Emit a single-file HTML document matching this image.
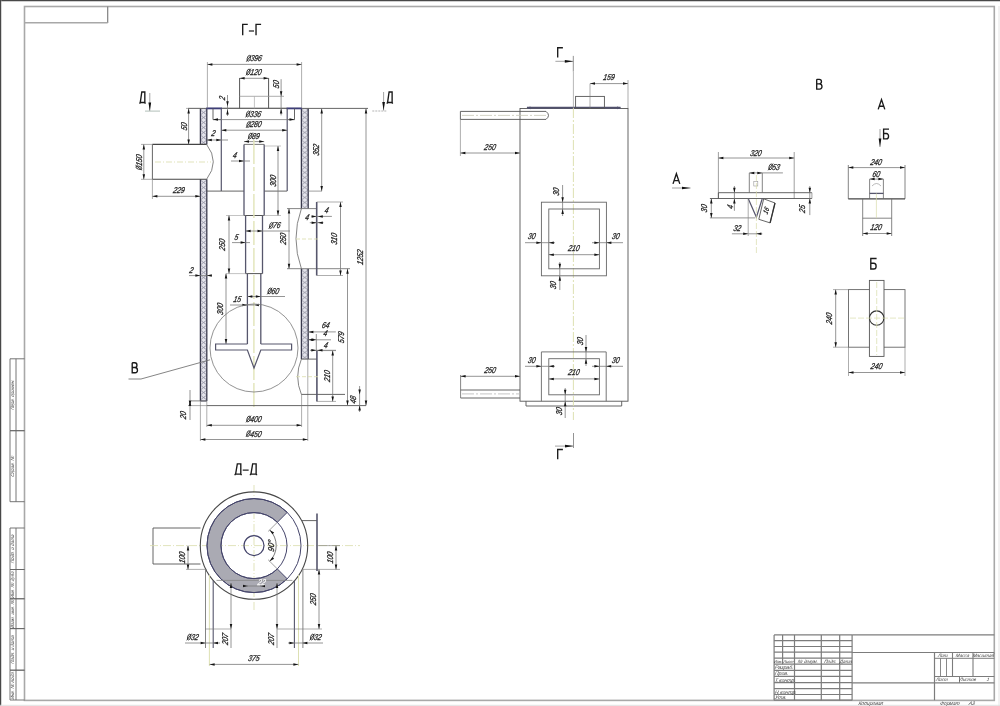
<!DOCTYPE html>
<html><head><meta charset="utf-8"><style>
html,body{margin:0;padding:0;background:#fff;}
svg{display:block;font-family:"Liberation Sans",sans-serif;will-change:transform;}
</style></head><body>
<svg width="1000" height="706" viewBox="0 0 1000 706">
<defs>
<pattern id="hat" width="6.4" height="5" patternUnits="userSpaceOnUse" x="200.4" y="0">
<rect width="6.4" height="5" fill="#e4e4ec"/>
<path d="M0,0 L3.2,2.5 L6.4,0 M0,5 L3.2,2.5 L6.4,5" stroke="#8c8c9c" stroke-width="0.8" fill="none"/>
</pattern>
<pattern id="hatR" width="6.8" height="5" patternUnits="userSpaceOnUse" x="301.4" y="0">
<rect width="6.8" height="5" fill="#e4e4ec"/>
<path d="M0,0 L3.4,2.5 L6.8,0 M0,5 L3.4,2.5 L6.8,5" stroke="#8c8c9c" stroke-width="0.8" fill="none"/>
</pattern>
</defs>
<rect width="1000" height="706" fill="#fff"/>
<g opacity="0.999">
<rect x="0" y="0" width="1000" height="1" fill="#484848"/>
<rect x="0" y="1" width="1000" height="0.6" fill="#b0b0b0"/>
<rect x="0" y="0" width="1" height="706" fill="#484848"/>
<rect x="1" y="0" width="0.4" height="706" fill="#999"/>
<rect x="24.5" y="6.5" width="969.8" height="693.9" stroke="#a8a8a8" stroke-width="1.6" fill="none"/>
<line x1="0" y1="705.3" x2="1000" y2="705.3" stroke="#e0e0e0" stroke-width="1"/>
<line x1="999" y1="6" x2="999" y2="706" stroke="#ddd" stroke-width="0.8"/>
<line x1="107.7" y1="6.5" x2="107.7" y2="23" stroke="#808080" stroke-width="1.2"/>
<line x1="24.5" y1="22.8" x2="107.7" y2="22.8" stroke="#a8a8a8" stroke-width="1.6"/>
<line x1="10" y1="358.8" x2="24.5" y2="358.8" stroke="#666" stroke-width="0.9"/>
<line x1="10" y1="430.7" x2="24.5" y2="430.7" stroke="#666" stroke-width="0.9"/>
<line x1="10" y1="358.8" x2="10" y2="430.7" stroke="#666" stroke-width="0.9"/>
<line x1="16" y1="358.8" x2="16" y2="430.7" stroke="#666" stroke-width="0.9"/>
<text transform="translate(13.0,394.75) rotate(-90) skewX(-13)" font-size="4.6" font-style="italic" font-weight="normal" text-anchor="middle" dominant-baseline="central" fill="#3a3a3a">Перв. примен.</text>
<line x1="10" y1="430.7" x2="24.5" y2="430.7" stroke="#666" stroke-width="0.9"/>
<line x1="10" y1="501.7" x2="24.5" y2="501.7" stroke="#666" stroke-width="0.9"/>
<line x1="10" y1="430.7" x2="10" y2="501.7" stroke="#666" stroke-width="0.9"/>
<line x1="16" y1="430.7" x2="16" y2="501.7" stroke="#666" stroke-width="0.9"/>
<text transform="translate(13.0,466.2) rotate(-90) skewX(-13)" font-size="4.6" font-style="italic" font-weight="normal" text-anchor="middle" dominant-baseline="central" fill="#3a3a3a">Справ. №</text>
<line x1="10" y1="528" x2="24.5" y2="528" stroke="#666" stroke-width="0.9"/>
<line x1="10" y1="569.5" x2="24.5" y2="569.5" stroke="#666" stroke-width="0.9"/>
<line x1="10" y1="528" x2="10" y2="569.5" stroke="#666" stroke-width="0.9"/>
<line x1="16" y1="528" x2="16" y2="569.5" stroke="#666" stroke-width="0.9"/>
<text transform="translate(13.0,548.75) rotate(-90) skewX(-13)" font-size="4.6" font-style="italic" font-weight="normal" text-anchor="middle" dominant-baseline="central" fill="#3a3a3a">Подп. и дата</text>
<line x1="10" y1="569.5" x2="24.5" y2="569.5" stroke="#666" stroke-width="0.9"/>
<line x1="10" y1="598.75" x2="24.5" y2="598.75" stroke="#666" stroke-width="0.9"/>
<line x1="10" y1="569.5" x2="10" y2="598.75" stroke="#666" stroke-width="0.9"/>
<line x1="16" y1="569.5" x2="16" y2="598.75" stroke="#666" stroke-width="0.9"/>
<text transform="translate(13.0,584.125) rotate(-90) skewX(-13)" font-size="4.6" font-style="italic" font-weight="normal" text-anchor="middle" dominant-baseline="central" fill="#3a3a3a">Инв. № дубл.</text>
<line x1="10" y1="598.75" x2="24.5" y2="598.75" stroke="#666" stroke-width="0.9"/>
<line x1="10" y1="628.6" x2="24.5" y2="628.6" stroke="#666" stroke-width="0.9"/>
<line x1="10" y1="598.75" x2="10" y2="628.6" stroke="#666" stroke-width="0.9"/>
<line x1="16" y1="598.75" x2="16" y2="628.6" stroke="#666" stroke-width="0.9"/>
<text transform="translate(13.0,613.675) rotate(-90) skewX(-13)" font-size="4.6" font-style="italic" font-weight="normal" text-anchor="middle" dominant-baseline="central" fill="#3a3a3a">Взам. инв. №</text>
<line x1="10" y1="628.6" x2="24.5" y2="628.6" stroke="#666" stroke-width="0.9"/>
<line x1="10" y1="670.2" x2="24.5" y2="670.2" stroke="#666" stroke-width="0.9"/>
<line x1="10" y1="628.6" x2="10" y2="670.2" stroke="#666" stroke-width="0.9"/>
<line x1="16" y1="628.6" x2="16" y2="670.2" stroke="#666" stroke-width="0.9"/>
<text transform="translate(13.0,649.4000000000001) rotate(-90) skewX(-13)" font-size="4.6" font-style="italic" font-weight="normal" text-anchor="middle" dominant-baseline="central" fill="#3a3a3a">Подп. и дата</text>
<line x1="10" y1="670.2" x2="24.5" y2="670.2" stroke="#666" stroke-width="0.9"/>
<line x1="10" y1="700" x2="24.5" y2="700" stroke="#666" stroke-width="0.9"/>
<line x1="10" y1="670.2" x2="10" y2="700" stroke="#666" stroke-width="0.9"/>
<line x1="16" y1="670.2" x2="16" y2="700" stroke="#666" stroke-width="0.9"/>
<text transform="translate(13.0,685.1) rotate(-90) skewX(-13)" font-size="4.6" font-style="italic" font-weight="normal" text-anchor="middle" dominant-baseline="central" fill="#3a3a3a">Инв. № подл.</text>
<line x1="774.1" y1="634.9" x2="852.1" y2="634.9" stroke="#7c7c7c" stroke-width="1.2"/>
<line x1="774.1" y1="640.7" x2="852.1" y2="640.7" stroke="#7c7c7c" stroke-width="1.2"/>
<line x1="774.1" y1="646.5" x2="852.1" y2="646.5" stroke="#7c7c7c" stroke-width="1.2"/>
<line x1="774.1" y1="652.2" x2="852.1" y2="652.2" stroke="#7c7c7c" stroke-width="1.2"/>
<line x1="774.1" y1="658.1" x2="852.1" y2="658.1" stroke="#7c7c7c" stroke-width="1.2"/>
<line x1="774.1" y1="664.2" x2="852.1" y2="664.2" stroke="#7c7c7c" stroke-width="1.2"/>
<line x1="774.1" y1="670.3" x2="852.1" y2="670.3" stroke="#7c7c7c" stroke-width="1.2"/>
<line x1="774.1" y1="676.4" x2="852.1" y2="676.4" stroke="#7c7c7c" stroke-width="1.2"/>
<line x1="774.1" y1="682.6" x2="852.1" y2="682.6" stroke="#7c7c7c" stroke-width="1.2"/>
<line x1="774.1" y1="688.7" x2="852.1" y2="688.7" stroke="#7c7c7c" stroke-width="1.2"/>
<line x1="774.1" y1="694.5" x2="852.1" y2="694.5" stroke="#7c7c7c" stroke-width="1.2"/>
<line x1="774.1" y1="700.2" x2="852.1" y2="700.2" stroke="#7c7c7c" stroke-width="1.2"/>
<line x1="774.1" y1="634.9" x2="774.1" y2="700.2" stroke="#7c7c7c" stroke-width="1.2"/>
<line x1="794.5" y1="634.9" x2="794.5" y2="700.2" stroke="#7c7c7c" stroke-width="1.2"/>
<line x1="821.3" y1="634.9" x2="821.3" y2="700.2" stroke="#7c7c7c" stroke-width="1.2"/>
<line x1="839.7" y1="634.9" x2="839.7" y2="700.2" stroke="#7c7c7c" stroke-width="1.2"/>
<line x1="852.1" y1="634.9" x2="852.1" y2="700.2" stroke="#7c7c7c" stroke-width="1.2"/>
<line x1="782.6" y1="634.9" x2="782.6" y2="664.2" stroke="#7c7c7c" stroke-width="1.2"/>
<line x1="852.1" y1="634.9" x2="994.3" y2="634.9" stroke="#7c7c7c" stroke-width="1.2"/>
<line x1="852.1" y1="652.5" x2="994.3" y2="652.5" stroke="#7c7c7c" stroke-width="1.2"/>
<line x1="852.1" y1="682.8" x2="994.3" y2="682.8" stroke="#7c7c7c" stroke-width="1.2"/>
<line x1="934.5" y1="652.5" x2="934.5" y2="700.2" stroke="#7c7c7c" stroke-width="1.2"/>
<line x1="934.5" y1="658.3" x2="994.3" y2="658.3" stroke="#7c7c7c" stroke-width="1.0"/>
<line x1="934.5" y1="676.5" x2="994.3" y2="676.5" stroke="#7c7c7c" stroke-width="1.2"/>
<line x1="952.5" y1="652.5" x2="952.5" y2="676.5" stroke="#7c7c7c" stroke-width="1.1"/>
<line x1="940.5" y1="658.3" x2="940.5" y2="676.5" stroke="#7c7c7c" stroke-width="0.9"/>
<line x1="946.5" y1="658.3" x2="946.5" y2="676.5" stroke="#7c7c7c" stroke-width="0.9"/>
<line x1="959.5" y1="676.5" x2="959.5" y2="682.8" stroke="#7c7c7c" stroke-width="1.0"/>
<line x1="973" y1="652.5" x2="973" y2="676.5" stroke="#7c7c7c" stroke-width="1.1"/>
<text transform="translate(943.5,655.6) skewX(-13)" font-size="4.6" font-style="italic" font-weight="normal" text-anchor="middle" dominant-baseline="central" fill="#3a3a3a">Лит.</text>
<text transform="translate(962.7,655.6) skewX(-13)" font-size="4.6" font-style="italic" font-weight="normal" text-anchor="middle" dominant-baseline="central" fill="#3a3a3a">Масса</text>
<text transform="translate(983.5,655.6) skewX(-13)" font-size="4.6" font-style="italic" font-weight="normal" text-anchor="middle" dominant-baseline="central" fill="#3a3a3a">Масштаб</text>
<text transform="translate(942,679.8) skewX(-13)" font-size="4.6" font-style="italic" font-weight="normal" text-anchor="middle" dominant-baseline="central" fill="#3a3a3a">Лист</text>
<text transform="translate(968,679.8) skewX(-13)" font-size="4.6" font-style="italic" font-weight="normal" text-anchor="middle" dominant-baseline="central" fill="#3a3a3a">Листов</text>
<text transform="translate(988,679.8) skewX(-13)" font-size="4.6" font-style="italic" font-weight="normal" text-anchor="middle" dominant-baseline="central" fill="#3a3a3a">1</text>
<text transform="translate(778.3,661.3) skewX(-13)" font-size="4.0" font-style="italic" font-weight="normal" text-anchor="middle" dominant-baseline="central" fill="#3a3a3a">Изм.</text>
<text transform="translate(788.5,661.3) skewX(-13)" font-size="4.0" font-style="italic" font-weight="normal" text-anchor="middle" dominant-baseline="central" fill="#3a3a3a">Лист</text>
<text transform="translate(808,661.3) skewX(-13)" font-size="4.6" font-style="italic" font-weight="normal" text-anchor="middle" dominant-baseline="central" fill="#3a3a3a">№ докум.</text>
<text transform="translate(830.5,661.3) skewX(-13)" font-size="4.6" font-style="italic" font-weight="normal" text-anchor="middle" dominant-baseline="central" fill="#3a3a3a">Подп.</text>
<text transform="translate(846,661.3) skewX(-13)" font-size="4.6" font-style="italic" font-weight="normal" text-anchor="middle" dominant-baseline="central" fill="#3a3a3a">Дата</text>
<text transform="translate(775,667.4) skewX(-13)" font-size="5.2" font-style="italic" font-weight="normal" text-anchor="start" dominant-baseline="central" fill="#3a3a3a">Разраб.</text>
<text transform="translate(775,673.4) skewX(-13)" font-size="5.2" font-style="italic" font-weight="normal" text-anchor="start" dominant-baseline="central" fill="#3a3a3a">Пров.</text>
<text transform="translate(775,679.6) skewX(-13)" font-size="5.2" font-style="italic" font-weight="normal" text-anchor="start" dominant-baseline="central" fill="#3a3a3a">Т.контр.</text>
<text transform="translate(775,691.7) skewX(-13)" font-size="5.2" font-style="italic" font-weight="normal" text-anchor="start" dominant-baseline="central" fill="#3a3a3a">Н.контр.</text>
<text transform="translate(775,697.5) skewX(-13)" font-size="5.2" font-style="italic" font-weight="normal" text-anchor="start" dominant-baseline="central" fill="#3a3a3a">Утв.</text>
<text transform="translate(871,703.3) skewX(-13)" font-size="5.0" font-style="italic" font-weight="normal" text-anchor="middle" dominant-baseline="central" fill="#3a3a3a">Копировал</text>
<text transform="translate(950,703.3) skewX(-13)" font-size="5.0" font-style="italic" font-weight="normal" text-anchor="middle" dominant-baseline="central" fill="#3a3a3a">Формат</text>
<text transform="translate(972,703.3) skewX(-13)" font-size="5.0" font-style="italic" font-weight="normal" text-anchor="middle" dominant-baseline="central" fill="#3a3a3a">А3</text>
<path transform="translate(242.10,24.30)" d="M0.6,11.0 L0.6,0 L5.666666666666667,0" stroke="#1a1a1a" stroke-width="1.35" fill="none" stroke-linejoin="miter" stroke-linecap="butt"/>
<path transform="translate(247.77,23.80)" d="M1.10,7.20 L6.23,7.20" stroke="#1a1a1a" stroke-width="1.2" fill="none" stroke-linejoin="miter" stroke-linecap="butt"/>
<path transform="translate(255.43,24.30)" d="M0.6,11.0 L0.6,0 L5.666666666666667,0" stroke="#1a1a1a" stroke-width="1.35" fill="none" stroke-linejoin="miter" stroke-linecap="butt"/>
<path transform="translate(139.60,91.95)" d="M0.70,10.5 L2.20,0 L5.22,0 L5.22,10.5 M0,10.5 L5.8,10.5 M0.3,10.5 L0.3,11.7 M5.50,10.5 L5.50,11.7" stroke="#1a1a1a" stroke-width="1.35" fill="none" stroke-linejoin="miter" stroke-linecap="butt"/>
<line x1="149.8" y1="93" x2="149.8" y2="110.9" stroke="#999" stroke-width="0.9"/>
<polygon points="149.8,110.9 148.45,102.40 151.15,102.40" fill="#111"/>
<line x1="145" y1="111.1" x2="160" y2="111.1" stroke="#a8b8b0" stroke-width="0.9"/>
<path transform="translate(386.90,91.95)" d="M0.70,10.5 L2.20,0 L5.22,0 L5.22,10.5 M0,10.5 L5.8,10.5 M0.3,10.5 L0.3,11.7 M5.50,10.5 L5.50,11.7" stroke="#1a1a1a" stroke-width="1.35" fill="none" stroke-linejoin="miter" stroke-linecap="butt"/>
<line x1="383.6" y1="92" x2="383.6" y2="110.5" stroke="#999" stroke-width="0.9"/>
<polygon points="383.6,110.5 382.25,102.00 384.95,102.00" fill="#111"/>
<line x1="372.3" y1="111" x2="387" y2="111" stroke="#aaa" stroke-width="0.9" stroke-dasharray="2,1"/>
<rect x="200.4" y="108.4" width="6.400000000000006" height="36.0" fill="url(#hat)"/>
<line x1="200.4" y1="108.4" x2="200.4" y2="144.4" stroke="#3a3a4e" stroke-width="1.3"/>
<line x1="206.8" y1="108.4" x2="206.8" y2="144.4" stroke="#3a3a4e" stroke-width="1.3"/>
<rect x="200.4" y="179.3" width="6.400000000000006" height="221.7" fill="url(#hat)"/>
<line x1="200.4" y1="179.3" x2="200.4" y2="401" stroke="#3a3a4e" stroke-width="1.3"/>
<line x1="206.8" y1="179.3" x2="206.8" y2="401" stroke="#3a3a4e" stroke-width="1.3"/>
<rect x="301.4" y="108.4" width="6.800000000000011" height="100.19999999999999" fill="url(#hatR)"/>
<line x1="301.4" y1="108.4" x2="301.4" y2="208.6" stroke="#3a3a4e" stroke-width="1.3"/>
<line x1="308.2" y1="108.4" x2="308.2" y2="208.6" stroke="#3a3a4e" stroke-width="1.3"/>
<rect x="301.4" y="268.7" width="6.800000000000011" height="90.40000000000003" fill="url(#hatR)"/>
<line x1="301.4" y1="268.7" x2="301.4" y2="359.1" stroke="#3a3a4e" stroke-width="1.3"/>
<line x1="308.2" y1="268.7" x2="308.2" y2="359.1" stroke="#3a3a4e" stroke-width="1.3"/>
<line x1="200.4" y1="401" x2="206.8" y2="401" stroke="#56566c" stroke-width="1.0"/>
<line x1="188" y1="108.4" x2="368" y2="108.4" stroke="#555" stroke-width="0.9"/>
<line x1="221.3" y1="108.4" x2="287.2" y2="108.4" stroke="#6a6a6a" stroke-width="1.2"/>
<line x1="206.2" y1="108.4" x2="221.9" y2="108.4" stroke="#3c3c78" stroke-width="1.8"/>
<line x1="286.6" y1="108.4" x2="302" y2="108.4" stroke="#3c3c78" stroke-width="1.8"/>
<polyline points="213,108.4 213,119.6 221.3,119.6" stroke="#555" stroke-width="0.9" fill="none"/>
<polyline points="294.5,108.4 294.5,119.6 287.2,119.6" stroke="#555" stroke-width="0.9" fill="none"/>
<line x1="221.3" y1="108.4" x2="221.3" y2="191.1" stroke="#56566c" stroke-width="1.2"/>
<line x1="287.2" y1="108.4" x2="287.2" y2="191.1" stroke="#56566c" stroke-width="1.2"/>
<line x1="206.8" y1="191.1" x2="244" y2="191.1" stroke="#555" stroke-width="0.9"/>
<line x1="264.2" y1="191.1" x2="287.2" y2="191.1" stroke="#555" stroke-width="0.9"/>
<line x1="308.2" y1="191.1" x2="322" y2="191.1" stroke="#777" stroke-width="0.7"/>
<line x1="239.6" y1="78" x2="239.6" y2="108.4" stroke="#555" stroke-width="1.0"/>
<line x1="268.6" y1="78" x2="268.6" y2="108.4" stroke="#555" stroke-width="1.0"/>
<line x1="239.6" y1="96.3" x2="284" y2="96.3" stroke="#999" stroke-width="0.8"/>
<line x1="254.4" y1="96.3" x2="254.4" y2="108.4" stroke="#aaa" stroke-width="0.7"/>
<line x1="207.4" y1="62" x2="207.4" y2="108.4" stroke="#777" stroke-width="0.6"/>
<line x1="301.6" y1="62" x2="301.6" y2="108.4" stroke="#777" stroke-width="0.6"/>
<line x1="207.4" y1="64.4" x2="301.6" y2="64.4" stroke="#7a7a7a" stroke-width="0.8"/>
<polygon points="207.4,64.4 212.4,63.150000000000006 212.4,65.65" fill="#151515"/>
<polygon points="301.6,64.4 296.6,63.150000000000006 296.6,65.65" fill="#151515"/>
<g transform="translate(254.5,58.3) skewX(-13)"><ellipse cx="-5.69" cy="0" rx="1.59" ry="2.91" stroke="#262626" stroke-width="0.85" fill="none"/><line x1="-7.39" y1="3.34" x2="-3.98" y2="-3.34" stroke="#262626" stroke-width="0.85"/><text x="-3.79" y="0" font-size="8.5" font-style="italic" font-weight="normal" text-anchor="start" dominant-baseline="central" fill="#262626" stroke="#262626" stroke-width="0.3" textLength="11.37" lengthAdjust="spacingAndGlyphs">396</text></g>
<line x1="239.6" y1="78.3" x2="268.6" y2="78.3" stroke="#7a7a7a" stroke-width="0.8"/>
<polygon points="239.6,78.3 244.6,77.05 244.6,79.55" fill="#151515"/>
<polygon points="268.6,78.3 263.6,77.05 263.6,79.55" fill="#151515"/>
<g transform="translate(254.10000000000002,72) skewX(-13)"><ellipse cx="-5.69" cy="0" rx="1.59" ry="2.91" stroke="#262626" stroke-width="0.85" fill="none"/><line x1="-7.39" y1="3.34" x2="-3.98" y2="-3.34" stroke="#262626" stroke-width="0.85"/><text x="-3.79" y="0" font-size="8.5" font-style="italic" font-weight="normal" text-anchor="start" dominant-baseline="central" fill="#262626" stroke="#262626" stroke-width="0.3" textLength="11.37" lengthAdjust="spacingAndGlyphs">120</text></g>
<line x1="281.1" y1="79.2" x2="281.1" y2="115.4" stroke="#7a7a7a" stroke-width="0.8"/>
<polygon points="281.1,96.3 279.85,91.3 282.35,91.3" fill="#151515"/>
<polygon points="281.1,108.4 279.85,113.4 282.35,113.4" fill="#151515"/>
<text transform="translate(275.6,84.2) rotate(-90) skewX(-13)" font-size="8.5" font-style="italic" font-weight="normal" text-anchor="middle" dominant-baseline="central" fill="#262626" stroke="#262626" stroke-width="0.3" textLength="7.58" lengthAdjust="spacingAndGlyphs">50</text>
<line x1="227.5" y1="95" x2="227.5" y2="116" stroke="#7a7a7a" stroke-width="0.8"/>
<polygon points="227.5,106.3 226.25,101.3 228.75,101.3" fill="#151515"/>
<polygon points="227.5,109.6 226.25,114.6 228.75,114.6" fill="#151515"/>
<text transform="translate(221.6,98) rotate(-90) skewX(-13)" font-size="8.5" font-style="italic" font-weight="normal" text-anchor="middle" dominant-baseline="central" fill="#262626" stroke="#262626" stroke-width="0.3" textLength="3.79" lengthAdjust="spacingAndGlyphs">2</text>
<line x1="213" y1="119.6" x2="294.5" y2="119.6" stroke="#7a7a7a" stroke-width="0.8"/>
<polygon points="213,119.6 218.0,118.35 218.0,120.85" fill="#151515"/>
<polygon points="294.5,119.6 289.5,118.35 289.5,120.85" fill="#151515"/>
<g transform="translate(253.75,114) skewX(-13)"><ellipse cx="-5.69" cy="0" rx="1.59" ry="2.91" stroke="#262626" stroke-width="0.85" fill="none"/><line x1="-7.39" y1="3.34" x2="-3.98" y2="-3.34" stroke="#262626" stroke-width="0.85"/><text x="-3.79" y="0" font-size="8.5" font-style="italic" font-weight="normal" text-anchor="start" dominant-baseline="central" fill="#262626" stroke="#262626" stroke-width="0.3" textLength="11.37" lengthAdjust="spacingAndGlyphs">336</text></g>
<line x1="221.3" y1="130.2" x2="287.2" y2="130.2" stroke="#7a7a7a" stroke-width="0.8"/>
<polygon points="221.3,130.2 226.3,128.95 226.3,131.45" fill="#151515"/>
<polygon points="287.2,130.2 282.2,128.95 282.2,131.45" fill="#151515"/>
<g transform="translate(254.25,124.5) skewX(-13)"><ellipse cx="-5.69" cy="0" rx="1.59" ry="2.91" stroke="#262626" stroke-width="0.85" fill="none"/><line x1="-7.39" y1="3.34" x2="-3.98" y2="-3.34" stroke="#262626" stroke-width="0.85"/><text x="-3.79" y="0" font-size="8.5" font-style="italic" font-weight="normal" text-anchor="start" dominant-baseline="central" fill="#262626" stroke="#262626" stroke-width="0.3" textLength="11.37" lengthAdjust="spacingAndGlyphs">280</text></g>
<line x1="152.4" y1="144.4" x2="206.6" y2="144.4" stroke="#444" stroke-width="1.1"/>
<line x1="152.4" y1="179.3" x2="206.6" y2="179.3" stroke="#444" stroke-width="1.1"/>
<line x1="152.4" y1="144.4" x2="152.4" y2="179.3" stroke="#555" stroke-width="0.9"/>
<path d="M206.6,144.4 Q220,161.8 206.6,179.3" stroke="#666" stroke-width="0.8" fill="none"/>
<line x1="155" y1="162" x2="211" y2="162" stroke="#d9dcaa" stroke-width="0.8" stroke-dasharray="6,2,1,2"/>
<line x1="141" y1="144.4" x2="152.4" y2="144.4" stroke="#777" stroke-width="0.6"/>
<line x1="141" y1="179.3" x2="152.4" y2="179.3" stroke="#777" stroke-width="0.6"/>
<line x1="143.8" y1="144.4" x2="143.8" y2="179.3" stroke="#7a7a7a" stroke-width="0.8"/>
<polygon points="143.8,144.4 142.55,149.4 145.05,149.4" fill="#151515"/>
<polygon points="143.8,179.3 142.55,174.3 145.05,174.3" fill="#151515"/>
<g transform="translate(138.8,162) rotate(-90) skewX(-13)"><ellipse cx="-5.69" cy="0" rx="1.59" ry="2.91" stroke="#262626" stroke-width="0.85" fill="none"/><line x1="-7.39" y1="3.34" x2="-3.98" y2="-3.34" stroke="#262626" stroke-width="0.85"/><text x="-3.79" y="0" font-size="8.5" font-style="italic" font-weight="normal" text-anchor="start" dominant-baseline="central" fill="#262626" stroke="#262626" stroke-width="0.3" textLength="11.37" lengthAdjust="spacingAndGlyphs">150</text></g>
<line x1="152.4" y1="179.3" x2="152.4" y2="199" stroke="#777" stroke-width="0.6"/>
<line x1="152.4" y1="196.3" x2="200.3" y2="196.3" stroke="#7a7a7a" stroke-width="0.8"/>
<polygon points="152.4,196.3 157.4,195.05 157.4,197.55" fill="#151515"/>
<polygon points="200.3,196.3 195.3,195.05 195.3,197.55" fill="#151515"/>
<text transform="translate(179,190.3) skewX(-13)" font-size="8.5" font-style="italic" font-weight="normal" text-anchor="middle" dominant-baseline="central" fill="#262626" stroke="#262626" stroke-width="0.3" textLength="11.37" lengthAdjust="spacingAndGlyphs">229</text>
<line x1="186" y1="108.4" x2="200.4" y2="108.4" stroke="#777" stroke-width="0.6"/>
<line x1="188.6" y1="108.4" x2="188.6" y2="144.4" stroke="#7a7a7a" stroke-width="0.8"/>
<polygon points="188.6,108.4 187.35,113.4 189.85,113.4" fill="#151515"/>
<polygon points="188.6,144.4 187.35,139.4 189.85,139.4" fill="#151515"/>
<text transform="translate(183.6,126.4) rotate(-90) skewX(-13)" font-size="8.5" font-style="italic" font-weight="normal" text-anchor="middle" dominant-baseline="central" fill="#262626" stroke="#262626" stroke-width="0.3" textLength="7.58" lengthAdjust="spacingAndGlyphs">50</text>
<line x1="206.8" y1="140" x2="228" y2="140" stroke="#7a7a7a" stroke-width="0.8"/>
<polygon points="206.8,140 211.8,138.75 211.8,141.25" fill="#151515"/>
<polygon points="221.3,140 216.3,138.75 216.3,141.25" fill="#151515"/>
<text transform="translate(213.5,133.5) skewX(-13)" font-size="8.5" font-style="italic" font-weight="normal" text-anchor="middle" dominant-baseline="central" fill="#262626" stroke="#262626" stroke-width="0.3" textLength="3.79" lengthAdjust="spacingAndGlyphs">2</text>
<line x1="244" y1="144.4" x2="244" y2="215.5" stroke="#56566c" stroke-width="1.3"/>
<line x1="264.2" y1="144.4" x2="264.2" y2="215.5" stroke="#56566c" stroke-width="1.3"/>
<line x1="244" y1="144.4" x2="264.2" y2="144.4" stroke="#555" stroke-width="0.8"/>
<line x1="244" y1="141.6" x2="264.2" y2="141.6" stroke="#7a7a7a" stroke-width="0.8"/>
<polygon points="244,141.6 249.0,140.35 249.0,142.85" fill="#151515"/>
<polygon points="264.2,141.6 259.2,140.35 259.2,142.85" fill="#151515"/>
<g transform="translate(254.1,136) skewX(-13)"><ellipse cx="-3.79" cy="0" rx="1.59" ry="2.91" stroke="#262626" stroke-width="0.85" fill="none"/><line x1="-5.50" y1="3.34" x2="-2.08" y2="-3.34" stroke="#262626" stroke-width="0.85"/><text x="-1.90" y="0" font-size="8.5" font-style="italic" font-weight="normal" text-anchor="start" dominant-baseline="central" fill="#262626" stroke="#262626" stroke-width="0.3" textLength="7.58" lengthAdjust="spacingAndGlyphs">89</text></g>
<line x1="244" y1="215.5" x2="264.2" y2="215.5" stroke="#555" stroke-width="1.0"/>
<line x1="245.6" y1="215.5" x2="245.6" y2="273.6" stroke="#56566c" stroke-width="1.3"/>
<line x1="262.5" y1="215.5" x2="262.5" y2="273.6" stroke="#56566c" stroke-width="1.3"/>
<line x1="245.6" y1="273.6" x2="262.5" y2="273.6" stroke="#555" stroke-width="1.0"/>
<line x1="247.4" y1="273.6" x2="247.4" y2="344" stroke="#56566c" stroke-width="1.3"/>
<line x1="260.8" y1="273.6" x2="260.8" y2="344" stroke="#56566c" stroke-width="1.3"/>
<line x1="253.9" y1="140" x2="253.9" y2="410" stroke="#e2e4b8" stroke-width="1.4" stroke-dasharray="24,3"/>
<line x1="231" y1="161" x2="250" y2="161" stroke="#7a7a7a" stroke-width="0.8"/>
<polygon points="244,161 239.0,159.75 239.0,162.25" fill="#151515"/>
<text transform="translate(235,155.5) skewX(-13)" font-size="8.5" font-style="italic" font-weight="normal" text-anchor="middle" dominant-baseline="central" fill="#262626" stroke="#262626" stroke-width="0.3" textLength="3.79" lengthAdjust="spacingAndGlyphs">4</text>
<line x1="264.2" y1="146" x2="281" y2="146" stroke="#888" stroke-width="0.5"/>
<line x1="262.5" y1="215.5" x2="281" y2="215.5" stroke="#888" stroke-width="0.5"/>
<line x1="278" y1="146" x2="278" y2="215.5" stroke="#7a7a7a" stroke-width="0.8"/>
<polygon points="278,146 276.75,151.0 279.25,151.0" fill="#151515"/>
<polygon points="278,215.5 276.75,210.5 279.25,210.5" fill="#151515"/>
<text transform="translate(273,180.75) rotate(-90) skewX(-13)" font-size="8.5" font-style="italic" font-weight="normal" text-anchor="middle" dominant-baseline="central" fill="#262626" stroke="#262626" stroke-width="0.3" textLength="11.37" lengthAdjust="spacingAndGlyphs">300</text>
<line x1="245.6" y1="231" x2="290" y2="231" stroke="#7a7a7a" stroke-width="0.8"/>
<polygon points="245.6,231 250.6,229.75 250.6,232.25" fill="#151515"/>
<polygon points="262.5,231 257.5,229.75 257.5,232.25" fill="#151515"/>
<g transform="translate(275,225.5) skewX(-13)"><ellipse cx="-3.79" cy="0" rx="1.59" ry="2.91" stroke="#262626" stroke-width="0.85" fill="none"/><line x1="-5.50" y1="3.34" x2="-2.08" y2="-3.34" stroke="#262626" stroke-width="0.85"/><text x="-1.90" y="0" font-size="8.5" font-style="italic" font-weight="normal" text-anchor="start" dominant-baseline="central" fill="#262626" stroke="#262626" stroke-width="0.3" textLength="7.58" lengthAdjust="spacingAndGlyphs">76</text></g>
<line x1="232" y1="242.6" x2="250" y2="242.6" stroke="#7a7a7a" stroke-width="0.8"/>
<polygon points="245.6,242.6 240.6,241.35 240.6,243.85" fill="#151515"/>
<text transform="translate(236.5,237) skewX(-13)" font-size="8.5" font-style="italic" font-weight="normal" text-anchor="middle" dominant-baseline="central" fill="#262626" stroke="#262626" stroke-width="0.3" textLength="3.79" lengthAdjust="spacingAndGlyphs">5</text>
<line x1="226" y1="215.5" x2="245.6" y2="215.5" stroke="#888" stroke-width="0.5"/>
<line x1="226" y1="273.6" x2="247.4" y2="273.6" stroke="#888" stroke-width="0.5"/>
<line x1="229" y1="215.5" x2="229" y2="273.6" stroke="#7a7a7a" stroke-width="0.8"/>
<polygon points="229,215.5 227.75,220.5 230.25,220.5" fill="#151515"/>
<polygon points="229,273.6 227.75,268.6 230.25,268.6" fill="#151515"/>
<text transform="translate(222.5,244.55) rotate(-90) skewX(-13)" font-size="8.5" font-style="italic" font-weight="normal" text-anchor="middle" dominant-baseline="central" fill="#262626" stroke="#262626" stroke-width="0.3" textLength="11.37" lengthAdjust="spacingAndGlyphs">250</text>
<line x1="189" y1="275.6" x2="212" y2="275.6" stroke="#7a7a7a" stroke-width="0.8"/>
<polygon points="200.4,275.6 195.4,274.35 195.4,276.85" fill="#151515"/>
<polygon points="206.8,275.6 211.8,274.35 211.8,276.85" fill="#151515"/>
<text transform="translate(191.5,270) skewX(-13)" font-size="8.5" font-style="italic" font-weight="normal" text-anchor="middle" dominant-baseline="central" fill="#262626" stroke="#262626" stroke-width="0.3" textLength="3.79" lengthAdjust="spacingAndGlyphs">2</text>
<line x1="226" y1="273.6" x2="226" y2="344" stroke="#7a7a7a" stroke-width="0.8"/>
<polygon points="226,273.6 224.75,278.6 227.25,278.6" fill="#151515"/>
<polygon points="226,344 224.75,339.0 227.25,339.0" fill="#151515"/>
<text transform="translate(220,308.8) rotate(-90) skewX(-13)" font-size="8.5" font-style="italic" font-weight="normal" text-anchor="middle" dominant-baseline="central" fill="#262626" stroke="#262626" stroke-width="0.3" textLength="11.37" lengthAdjust="spacingAndGlyphs">300</text>
<line x1="247.4" y1="296.5" x2="285" y2="296.5" stroke="#7a7a7a" stroke-width="0.8"/>
<polygon points="247.4,296.5 252.4,295.25 252.4,297.75" fill="#151515"/>
<polygon points="260.8,296.5 255.8,295.25 255.8,297.75" fill="#151515"/>
<g transform="translate(273.5,291) skewX(-13)"><ellipse cx="-3.79" cy="0" rx="1.59" ry="2.91" stroke="#262626" stroke-width="0.85" fill="none"/><line x1="-5.50" y1="3.34" x2="-2.08" y2="-3.34" stroke="#262626" stroke-width="0.85"/><text x="-1.90" y="0" font-size="8.5" font-style="italic" font-weight="normal" text-anchor="start" dominant-baseline="central" fill="#262626" stroke="#262626" stroke-width="0.3" textLength="7.58" lengthAdjust="spacingAndGlyphs">60</text></g>
<line x1="230" y1="305" x2="254" y2="305" stroke="#7a7a7a" stroke-width="0.8"/>
<polygon points="247.4,305 242.4,303.75 242.4,306.25" fill="#151515"/>
<polygon points="253.9,305 258.9,303.75 258.9,306.25" fill="#151515"/>
<text transform="translate(237.5,299.5) skewX(-13)" font-size="8.5" font-style="italic" font-weight="normal" text-anchor="middle" dominant-baseline="central" fill="#262626" stroke="#262626" stroke-width="0.3" textLength="7.58" lengthAdjust="spacingAndGlyphs">15</text>
<circle cx="254" cy="348" r="44" stroke="#777" stroke-width="0.8" fill="none"/>
<polyline points="247.4,344 215.6,344 215.6,350 247.4,350 254,368 260.8,350 291.6,350 291.6,344 260.8,344" stroke="#56566c" stroke-width="1.2" fill="none"/>
<path transform="translate(131.60,362.80)" d="M0.6,0 L0.6,10.0 L3.52,10.0 C6.72,10.0 6.72,4.70 3.20,4.70 L0.6,4.70 M0.6,0 L3.20,0 C6.08,0 6.08,4.70 3.20,4.70" stroke="#1a1a1a" stroke-width="1.35" fill="none" stroke-linejoin="miter" stroke-linecap="butt"/>
<polyline points="128.5,379 141,379 200.4,362.5 210,359.8" stroke="#777" stroke-width="0.9" fill="none"/>
<line x1="190.8" y1="400.9" x2="206.8" y2="400.9" stroke="#666" stroke-width="0.8"/>
<line x1="206.8" y1="405.6" x2="366" y2="405.6" stroke="#555" stroke-width="0.9"/>
<line x1="188" y1="405.6" x2="206.8" y2="405.6" stroke="#777" stroke-width="0.6"/>
<line x1="190" y1="400.9" x2="190" y2="405.6" stroke="#7a7a7a" stroke-width="0.8"/>
<polygon points="190,400.9 188.75,405.9 191.25,405.9" fill="#151515"/>
<polygon points="190,405.6 188.75,400.6 191.25,400.6" fill="#151515"/>
<text transform="translate(183.5,415) rotate(-90) skewX(-13)" font-size="8.5" font-style="italic" font-weight="normal" text-anchor="middle" dominant-baseline="central" fill="#262626" stroke="#262626" stroke-width="0.3" textLength="7.58" lengthAdjust="spacingAndGlyphs">20</text>
<line x1="190" y1="405.6" x2="190" y2="420" stroke="#7a7a7a" stroke-width="0.8"/>
<line x1="190" y1="390" x2="190" y2="400.9" stroke="#7a7a7a" stroke-width="0.8"/>
<line x1="206.8" y1="401" x2="206.8" y2="427" stroke="#777" stroke-width="0.6"/>
<line x1="200.4" y1="401" x2="200.4" y2="441" stroke="#777" stroke-width="0.6"/>
<line x1="301.6" y1="394.4" x2="301.6" y2="427" stroke="#777" stroke-width="0.6"/>
<line x1="307.8" y1="359" x2="307.8" y2="441" stroke="#777" stroke-width="0.6"/>
<line x1="206.8" y1="425.3" x2="301.6" y2="425.3" stroke="#7a7a7a" stroke-width="0.8"/>
<polygon points="206.8,425.3 211.8,424.05 211.8,426.55" fill="#151515"/>
<polygon points="301.6,425.3 296.6,424.05 296.6,426.55" fill="#151515"/>
<g transform="translate(254.20000000000002,419) skewX(-13)"><ellipse cx="-5.69" cy="0" rx="1.59" ry="2.91" stroke="#262626" stroke-width="0.85" fill="none"/><line x1="-7.39" y1="3.34" x2="-3.98" y2="-3.34" stroke="#262626" stroke-width="0.85"/><text x="-3.79" y="0" font-size="8.5" font-style="italic" font-weight="normal" text-anchor="start" dominant-baseline="central" fill="#262626" stroke="#262626" stroke-width="0.3" textLength="11.37" lengthAdjust="spacingAndGlyphs">400</text></g>
<line x1="200.4" y1="439.5" x2="307.8" y2="439.5" stroke="#7a7a7a" stroke-width="0.8"/>
<polygon points="200.4,439.5 205.4,438.25 205.4,440.75" fill="#151515"/>
<polygon points="307.8,439.5 302.8,438.25 302.8,440.75" fill="#151515"/>
<g transform="translate(254.10000000000002,433.6) skewX(-13)"><ellipse cx="-5.69" cy="0" rx="1.59" ry="2.91" stroke="#262626" stroke-width="0.85" fill="none"/><line x1="-7.39" y1="3.34" x2="-3.98" y2="-3.34" stroke="#262626" stroke-width="0.85"/><text x="-3.79" y="0" font-size="8.5" font-style="italic" font-weight="normal" text-anchor="start" dominant-baseline="central" fill="#262626" stroke="#262626" stroke-width="0.3" textLength="11.37" lengthAdjust="spacingAndGlyphs">450</text></g>
<path d="M301.4,208.6 Q290.6,238.6 301.4,268.7" stroke="#666" stroke-width="0.8" fill="none"/>
<line x1="287" y1="208.6" x2="317" y2="208.6" stroke="#666" stroke-width="0.8"/>
<line x1="287" y1="268.7" x2="350" y2="268.7" stroke="#666" stroke-width="0.8"/>
<line x1="316.7" y1="202" x2="316.7" y2="275.5" stroke="#56566c" stroke-width="1.6"/>
<line x1="316.7" y1="202" x2="343" y2="202" stroke="#777" stroke-width="0.6"/>
<line x1="316.7" y1="275.5" x2="343" y2="275.5" stroke="#777" stroke-width="0.6"/>
<line x1="340.5" y1="202" x2="340.5" y2="275.5" stroke="#7a7a7a" stroke-width="0.8"/>
<polygon points="340.5,202 339.25,207.0 341.75,207.0" fill="#151515"/>
<polygon points="340.5,275.5 339.25,270.5 341.75,270.5" fill="#151515"/>
<text transform="translate(334.5,238.75) rotate(-90) skewX(-13)" font-size="8.5" font-style="italic" font-weight="normal" text-anchor="middle" dominant-baseline="central" fill="#262626" stroke="#262626" stroke-width="0.3" textLength="11.37" lengthAdjust="spacingAndGlyphs">310</text>
<line x1="289" y1="208.6" x2="289" y2="268.7" stroke="#7a7a7a" stroke-width="0.8"/>
<polygon points="289,208.6 287.75,213.6 290.25,213.6" fill="#151515"/>
<polygon points="289,268.7 287.75,263.7 290.25,263.7" fill="#151515"/>
<text transform="translate(283,238.64999999999998) rotate(-90) skewX(-13)" font-size="8.5" font-style="italic" font-weight="normal" text-anchor="middle" dominant-baseline="central" fill="#262626" stroke="#262626" stroke-width="0.3" textLength="11.37" lengthAdjust="spacingAndGlyphs">250</text>
<line x1="296" y1="239" x2="318" y2="239" stroke="#d9dcaa" stroke-width="0.8" stroke-dasharray="4,2"/>
<line x1="311.5" y1="216.4" x2="331.9" y2="216.4" stroke="#7a7a7a" stroke-width="0.8"/>
<polygon points="316.6,216.4 311.6,215.15 311.6,217.65" fill="#151515"/>
<polygon points="317.8,216.4 322.8,215.15 322.8,217.65" fill="#151515"/>
<text transform="translate(326.8,210.4) skewX(-13)" font-size="8.5" font-style="italic" font-weight="normal" text-anchor="middle" dominant-baseline="central" fill="#262626" stroke="#262626" stroke-width="0.3" textLength="3.79" lengthAdjust="spacingAndGlyphs">4</text>
<line x1="309.8" y1="222.7" x2="323.4" y2="222.7" stroke="#7a7a7a" stroke-width="0.8"/>
<polygon points="316.6,222.7 311.6,221.45 311.6,223.95" fill="#151515"/>
<polygon points="317.8,222.7 322.8,221.45 322.8,223.95" fill="#151515"/>
<text transform="translate(307.2,217.2) skewX(-13)" font-size="8.5" font-style="italic" font-weight="normal" text-anchor="middle" dominant-baseline="central" fill="#262626" stroke="#262626" stroke-width="0.3" textLength="3.79" lengthAdjust="spacingAndGlyphs">4</text>
<line x1="368" y1="108.4" x2="368" y2="108.4" stroke="#7a7a7a" stroke-width="0.8"/>
<line x1="321.7" y1="108.4" x2="321.7" y2="191.1" stroke="#7a7a7a" stroke-width="0.8"/>
<polygon points="321.7,108.4 320.45,113.4 322.95,113.4" fill="#151515"/>
<polygon points="321.7,191.1 320.45,186.1 322.95,186.1" fill="#151515"/>
<text transform="translate(316,149.75) rotate(-90) skewX(-13)" font-size="8.5" font-style="italic" font-weight="normal" text-anchor="middle" dominant-baseline="central" fill="#262626" stroke="#262626" stroke-width="0.3" textLength="11.37" lengthAdjust="spacingAndGlyphs">352</text>
<line x1="366" y1="108.4" x2="366" y2="405.6" stroke="#7a7a7a" stroke-width="0.8"/>
<polygon points="366,108.4 364.75,113.4 367.25,113.4" fill="#151515"/>
<polygon points="366,405.6 364.75,400.6 367.25,400.6" fill="#151515"/>
<text transform="translate(360,257.0) rotate(-90) skewX(-13)" font-size="8.5" font-style="italic" font-weight="normal" text-anchor="middle" dominant-baseline="central" fill="#262626" stroke="#262626" stroke-width="0.3" textLength="15.16" lengthAdjust="spacingAndGlyphs">1252</text>
<line x1="301.4" y1="359.1" x2="316.9" y2="359.1" stroke="#555" stroke-width="0.9"/>
<path d="M301.4,359.1 Q294,376.7 301.4,394.4" stroke="#666" stroke-width="0.8" fill="none"/>
<line x1="301.4" y1="394.4" x2="345" y2="394.4" stroke="#555" stroke-width="0.9"/>
<line x1="316.9" y1="350.6" x2="316.9" y2="401.4" stroke="#56566c" stroke-width="1.6"/>
<line x1="316.9" y1="350.6" x2="336" y2="350.6" stroke="#777" stroke-width="0.6"/>
<line x1="316.9" y1="401.4" x2="336" y2="401.4" stroke="#777" stroke-width="0.6"/>
<line x1="332.7" y1="350.6" x2="332.7" y2="401.4" stroke="#7a7a7a" stroke-width="0.8"/>
<polygon points="332.7,350.6 331.45,355.6 333.95,355.6" fill="#151515"/>
<polygon points="332.7,401.4 331.45,396.4 333.95,396.4" fill="#151515"/>
<text transform="translate(327.5,376.0) rotate(-90) skewX(-13)" font-size="8.5" font-style="italic" font-weight="normal" text-anchor="middle" dominant-baseline="central" fill="#262626" stroke="#262626" stroke-width="0.3" textLength="11.37" lengthAdjust="spacingAndGlyphs">210</text>
<line x1="296" y1="376.7" x2="318" y2="376.7" stroke="#d9dcaa" stroke-width="0.8" stroke-dasharray="4,2"/>
<line x1="347.5" y1="268.7" x2="347.5" y2="405.6" stroke="#7a7a7a" stroke-width="0.8"/>
<polygon points="347.5,268.7 346.25,273.7 348.75,273.7" fill="#151515"/>
<polygon points="347.5,405.6 346.25,400.6 348.75,400.6" fill="#151515"/>
<text transform="translate(341.5,337.15) rotate(-90) skewX(-13)" font-size="8.5" font-style="italic" font-weight="normal" text-anchor="middle" dominant-baseline="central" fill="#262626" stroke="#262626" stroke-width="0.3" textLength="11.37" lengthAdjust="spacingAndGlyphs">579</text>
<line x1="359.6" y1="386" x2="359.6" y2="412" stroke="#7a7a7a" stroke-width="0.8"/>
<polygon points="359.6,394.4 358.35,389.4 360.85,389.4" fill="#151515"/>
<polygon points="359.6,405.6 358.35,410.6 360.85,410.6" fill="#151515"/>
<text transform="translate(353.5,399.5) rotate(-90) skewX(-13)" font-size="8.5" font-style="italic" font-weight="normal" text-anchor="middle" dominant-baseline="central" fill="#262626" stroke="#262626" stroke-width="0.3" textLength="7.58" lengthAdjust="spacingAndGlyphs">48</text>
<line x1="308.2" y1="331.9" x2="335.8" y2="331.9" stroke="#7a7a7a" stroke-width="0.8"/>
<polygon points="308.4,331.9 313.4,330.65 313.4,333.15" fill="#151515"/>
<text transform="translate(326,325.5) skewX(-13)" font-size="8.5" font-style="italic" font-weight="normal" text-anchor="middle" dominant-baseline="central" fill="#262626" stroke="#262626" stroke-width="0.3" textLength="7.58" lengthAdjust="spacingAndGlyphs">64</text>
<line x1="308.2" y1="339.8" x2="331" y2="339.8" stroke="#7a7a7a" stroke-width="0.8"/>
<polygon points="308.4,339.8 313.4,338.55 313.4,341.05" fill="#151515"/>
<polygon points="316.3,339.8 311.3,338.55 311.3,341.05" fill="#151515"/>
<text transform="translate(325.5,333.5) skewX(-13)" font-size="8.5" font-style="italic" font-weight="normal" text-anchor="middle" dominant-baseline="central" fill="#262626" stroke="#262626" stroke-width="0.3" textLength="3.79" lengthAdjust="spacingAndGlyphs">4</text>
<line x1="310" y1="350.3" x2="336" y2="350.3" stroke="#7a7a7a" stroke-width="0.8"/>
<polygon points="316.3,350.3 311.3,349.05 311.3,351.55" fill="#151515"/>
<polygon points="317.5,350.3 322.5,349.05 322.5,351.55" fill="#151515"/>
<text transform="translate(326,344.6) skewX(-13)" font-size="8.5" font-style="italic" font-weight="normal" text-anchor="middle" dominant-baseline="central" fill="#262626" stroke="#262626" stroke-width="0.3" textLength="3.79" lengthAdjust="spacingAndGlyphs">4</text>
<line x1="316.3" y1="334" x2="316.3" y2="351" stroke="#7a7a7a" stroke-width="0.8"/>
<path transform="translate(234.80,463.90)" d="M0.80,10.2 L2.53,0 L6.00,0 L6.00,10.2 M0,10.2 L6.666666666666667,10.2 M0.3,10.2 L0.3,11.399999999999999 M6.37,10.2 L6.37,11.399999999999999" stroke="#1a1a1a" stroke-width="1.35" fill="none" stroke-linejoin="miter" stroke-linecap="butt"/>
<path transform="translate(241.47,463.40)" d="M1.26,6.72 L7.17,6.72" stroke="#1a1a1a" stroke-width="1.2" fill="none" stroke-linejoin="miter" stroke-linecap="butt"/>
<path transform="translate(250.13,463.90)" d="M0.80,10.2 L2.53,0 L6.00,0 L6.00,10.2 M0,10.2 L6.666666666666667,10.2 M0.3,10.2 L0.3,11.399999999999999 M6.37,10.2 L6.37,11.399999999999999" stroke="#1a1a1a" stroke-width="1.35" fill="none" stroke-linejoin="miter" stroke-linecap="butt"/>
<line x1="153" y1="528" x2="200.5" y2="528" stroke="#555" stroke-width="0.9"/>
<line x1="153" y1="564" x2="200.5" y2="564" stroke="#555" stroke-width="0.9"/>
<line x1="153" y1="528" x2="153" y2="564" stroke="#555" stroke-width="0.9"/>
<line x1="150" y1="545.6" x2="360" y2="545.6" stroke="#d9dcaa" stroke-width="0.8" stroke-dasharray="8,2,1,2"/>
<line x1="254" y1="485" x2="254" y2="610" stroke="#d9dcaa" stroke-width="0.8" stroke-dasharray="8,2,1,2"/>
<path d="M287.23,512.37 A47,47 0 1 0 287.23,578.83 L277.33,568.93 A33,33 0 1 1 277.33,522.27 Z" stroke="#44446a" stroke-width="1.0" fill="#aaaab3"/>
<circle cx="254" cy="545.6" r="53.7" stroke="#484848" stroke-width="1.1" fill="none"/>
<circle cx="254" cy="545.6" r="47" stroke="#44446a" stroke-width="1.0" fill="none"/>
<circle cx="254" cy="545.6" r="33" stroke="#44446a" stroke-width="1.0" fill="none"/>
<circle cx="254" cy="545.6" r="10" stroke="#44446a" stroke-width="1.2" fill="none"/>
<path d="M269.70,529.90 A22.2,22.2 0 0 1 269.70,561.30" stroke="#555" stroke-width="0.8" fill="none"/>
<line x1="268.14" y1="531.46" x2="277.33" y2="522.27" stroke="#777" stroke-width="0.7"/>
<line x1="268.14" y1="559.74" x2="277.33" y2="568.93" stroke="#777" stroke-width="0.7"/>
<polygon points="269.70,529.90 274.12,532.55 272.35,534.32" fill="#151515"/>
<polygon points="269.70,561.30 272.35,556.88 274.12,558.65" fill="#151515"/>
<text transform="translate(271.3,545.6) rotate(-90) skewX(-13)" font-size="8.5" font-style="italic" font-weight="normal" text-anchor="middle" dominant-baseline="central" fill="#262626" stroke="#262626" stroke-width="0.3" textLength="11.37" lengthAdjust="spacingAndGlyphs">90°</text>
<line x1="302" y1="520.6" x2="317" y2="520.6" stroke="#555" stroke-width="0.9"/>
<line x1="302" y1="569.4" x2="340" y2="569.4" stroke="#777" stroke-width="0.6"/>
<line x1="317" y1="513.5" x2="317" y2="571" stroke="#56566c" stroke-width="1.6"/>
<line x1="336" y1="545.6" x2="336" y2="569.4" stroke="#7a7a7a" stroke-width="0.8"/>
<polygon points="336,545.6 334.75,550.6 337.25,550.6" fill="#151515"/>
<polygon points="336,569.4 334.75,564.4 337.25,564.4" fill="#151515"/>
<text transform="translate(329.6,557.5) rotate(-90) skewX(-13)" font-size="8.5" font-style="italic" font-weight="normal" text-anchor="middle" dominant-baseline="central" fill="#262626" stroke="#262626" stroke-width="0.3" textLength="11.37" lengthAdjust="spacingAndGlyphs">100</text>
<line x1="317" y1="545.6" x2="340" y2="545.6" stroke="#777" stroke-width="0.6"/>
<line x1="186" y1="569.4" x2="207" y2="569.4" stroke="#777" stroke-width="0.6"/>
<line x1="188" y1="545.6" x2="188" y2="569.4" stroke="#7a7a7a" stroke-width="0.8"/>
<polygon points="188,545.6 186.75,550.6 189.25,550.6" fill="#151515"/>
<polygon points="188,569.4 186.75,564.4 189.25,564.4" fill="#151515"/>
<text transform="translate(182.5,557.5) rotate(-90) skewX(-13)" font-size="8.5" font-style="italic" font-weight="normal" text-anchor="middle" dominant-baseline="central" fill="#262626" stroke="#262626" stroke-width="0.3" textLength="11.37" lengthAdjust="spacingAndGlyphs">100</text>
<line x1="205.5" y1="569.4" x2="205.5" y2="648" stroke="#777" stroke-width="0.9"/>
<line x1="209.4" y1="575" x2="209.4" y2="666" stroke="#d9dcaa" stroke-width="0.9"/>
<line x1="213.2" y1="580.4" x2="213.2" y2="648" stroke="#56566c" stroke-width="1.1"/>
<line x1="294.4" y1="580.4" x2="294.4" y2="648" stroke="#56566c" stroke-width="1.1"/>
<line x1="298.5" y1="575" x2="298.5" y2="666" stroke="#d9dcaa" stroke-width="0.9"/>
<line x1="302.9" y1="569.4" x2="302.9" y2="648" stroke="#777" stroke-width="0.9"/>
<line x1="216.5" y1="580.4" x2="292.4" y2="580.4" stroke="#888" stroke-width="0.8"/>
<line x1="247" y1="586" x2="261" y2="586" stroke="#7a7a7a" stroke-width="0.8"/>
<polygon points="248,586 243.0,584.75 243.0,587.25" fill="#151515"/>
<polygon points="260,586 265.0,584.75 265.0,587.25" fill="#151515"/>
<text transform="translate(261.8,581.9) skewX(-13)" font-size="8.5" font-style="italic" font-weight="normal" text-anchor="middle" dominant-baseline="central" fill="#f4f4f4" stroke="#f4f4f4" stroke-width="0.3" textLength="7.58" lengthAdjust="spacingAndGlyphs">22</text>
<line x1="231" y1="583" x2="231" y2="629" stroke="#7a7a7a" stroke-width="0.8"/>
<polygon points="231,583 229.75,588.0 232.25,588.0" fill="#151515"/>
<polygon points="231,629 229.75,624.0 232.25,624.0" fill="#151515"/>
<line x1="231" y1="629" x2="231" y2="648" stroke="#7a7a7a" stroke-width="0.8"/>
<text transform="translate(225.5,639) rotate(-90) skewX(-13)" font-size="8.5" font-style="italic" font-weight="normal" text-anchor="middle" dominant-baseline="central" fill="#262626" stroke="#262626" stroke-width="0.3" textLength="11.37" lengthAdjust="spacingAndGlyphs">207</text>
<line x1="277" y1="583" x2="277" y2="629" stroke="#7a7a7a" stroke-width="0.8"/>
<polygon points="277,583 275.75,588.0 278.25,588.0" fill="#151515"/>
<polygon points="277,629 275.75,624.0 278.25,624.0" fill="#151515"/>
<line x1="277" y1="629" x2="277" y2="648" stroke="#7a7a7a" stroke-width="0.8"/>
<text transform="translate(271.5,639) rotate(-90) skewX(-13)" font-size="8.5" font-style="italic" font-weight="normal" text-anchor="middle" dominant-baseline="central" fill="#262626" stroke="#262626" stroke-width="0.3" textLength="11.37" lengthAdjust="spacingAndGlyphs">207</text>
<line x1="205" y1="629" x2="231" y2="629" stroke="#777" stroke-width="0.6"/>
<line x1="277" y1="629" x2="322" y2="629" stroke="#777" stroke-width="0.6"/>
<line x1="319" y1="569.4" x2="319" y2="629" stroke="#7a7a7a" stroke-width="0.8"/>
<polygon points="319,569.4 317.75,574.4 320.25,574.4" fill="#151515"/>
<polygon points="319,629 317.75,624.0 320.25,624.0" fill="#151515"/>
<text transform="translate(313,599.2) rotate(-90) skewX(-13)" font-size="8.5" font-style="italic" font-weight="normal" text-anchor="middle" dominant-baseline="central" fill="#262626" stroke="#262626" stroke-width="0.3" textLength="11.37" lengthAdjust="spacingAndGlyphs">250</text>
<line x1="185" y1="643" x2="220" y2="643" stroke="#7a7a7a" stroke-width="0.8"/>
<polygon points="205.6,643 200.6,641.75 200.6,644.25" fill="#151515"/>
<polygon points="213,643 218.0,641.75 218.0,644.25" fill="#151515"/>
<g transform="translate(193,637) skewX(-13)"><ellipse cx="-3.79" cy="0" rx="1.59" ry="2.91" stroke="#262626" stroke-width="0.85" fill="none"/><line x1="-5.50" y1="3.34" x2="-2.08" y2="-3.34" stroke="#262626" stroke-width="0.85"/><text x="-1.90" y="0" font-size="8.5" font-style="italic" font-weight="normal" text-anchor="start" dominant-baseline="central" fill="#262626" stroke="#262626" stroke-width="0.3" textLength="7.58" lengthAdjust="spacingAndGlyphs">32</text></g>
<line x1="288" y1="643" x2="323" y2="643" stroke="#7a7a7a" stroke-width="0.8"/>
<polygon points="294.4,643 289.4,641.75 289.4,644.25" fill="#151515"/>
<polygon points="302.4,643 307.4,641.75 307.4,644.25" fill="#151515"/>
<g transform="translate(316,637) skewX(-13)"><ellipse cx="-3.79" cy="0" rx="1.59" ry="2.91" stroke="#262626" stroke-width="0.85" fill="none"/><line x1="-5.50" y1="3.34" x2="-2.08" y2="-3.34" stroke="#262626" stroke-width="0.85"/><text x="-1.90" y="0" font-size="8.5" font-style="italic" font-weight="normal" text-anchor="start" dominant-baseline="central" fill="#262626" stroke="#262626" stroke-width="0.3" textLength="7.58" lengthAdjust="spacingAndGlyphs">32</text></g>
<line x1="209.6" y1="664.4" x2="298.4" y2="664.4" stroke="#7a7a7a" stroke-width="0.8"/>
<polygon points="209.6,664.4 214.6,663.15 214.6,665.65" fill="#151515"/>
<polygon points="298.4,664.4 293.4,663.15 293.4,665.65" fill="#151515"/>
<text transform="translate(254.0,658) skewX(-13)" font-size="8.5" font-style="italic" font-weight="normal" text-anchor="middle" dominant-baseline="central" fill="#262626" stroke="#262626" stroke-width="0.3" textLength="11.37" lengthAdjust="spacingAndGlyphs">375</text>
<path transform="translate(557.10,47.70)" d="M0.6,9.8 L0.6,0 L5.8,0" stroke="#1a1a1a" stroke-width="1.35" fill="none" stroke-linejoin="miter" stroke-linecap="butt"/>
<line x1="555.4" y1="61.3" x2="573.3" y2="61.3" stroke="#999" stroke-width="0.9"/>
<polygon points="573.3,61.3 564.80,62.65 564.80,59.95" fill="#111"/>
<line x1="573.3" y1="55.9" x2="573.3" y2="71.7" stroke="#888" stroke-width="0.9"/>
<path transform="translate(557.10,449.50)" d="M0.6,9.8 L0.6,0 L5.8,0" stroke="#1a1a1a" stroke-width="1.35" fill="none" stroke-linejoin="miter" stroke-linecap="butt"/>
<line x1="555" y1="446.1" x2="573.5" y2="446.1" stroke="#999" stroke-width="0.9"/>
<polygon points="573.5,446.1 565.00,447.45 565.00,444.75" fill="#111"/>
<line x1="573.5" y1="433" x2="573.5" y2="448" stroke="#888" stroke-width="0.9"/>
<rect x="520" y="108.5" width="108" height="292.7" stroke="#555" stroke-width="0.9" fill="none"/>
<line x1="527" y1="107.8" x2="620.5" y2="107.8" stroke="#50506c" stroke-width="2.0"/>
<polygon points="526.5,107.8 530.5,106.39999999999999 530.5,109.2" fill="#50506c"/>
<polygon points="621,107.8 617,106.39999999999999 617,109.2" fill="#50506c"/>
<polyline points="526,401.2 526,406 621.7,406 621.7,401.2" stroke="#555" stroke-width="0.9" fill="none"/>
<rect x="575.6" y="96.4" width="28.799999999999955" height="12.0" stroke="#555" stroke-width="0.9" fill="none"/>
<line x1="590" y1="83.6" x2="590" y2="108.4" stroke="#777" stroke-width="0.6"/>
<line x1="628" y1="80" x2="628" y2="108.5" stroke="#777" stroke-width="0.6"/>
<line x1="590" y1="83.6" x2="628" y2="83.6" stroke="#7a7a7a" stroke-width="0.8"/>
<polygon points="590,83.6 595.0,82.35 595.0,84.85" fill="#151515"/>
<polygon points="628,83.6 623.0,82.35 623.0,84.85" fill="#151515"/>
<text transform="translate(609,77.5) skewX(-13)" font-size="8.5" font-style="italic" font-weight="normal" text-anchor="middle" dominant-baseline="central" fill="#262626" stroke="#262626" stroke-width="0.3" textLength="11.37" lengthAdjust="spacingAndGlyphs">159</text>
<line x1="573.4" y1="72" x2="573.4" y2="108" stroke="#999" stroke-width="0.7"/>
<line x1="573.4" y1="108" x2="573.4" y2="420" stroke="#d9dcaa" stroke-width="0.9" stroke-dasharray="10,2,2,2"/>
<path d="M520,111.4 L460.4,111.4 L460.4,119.4 L546,119.4 Q551,115.4 546,111.4 L520,111.4" stroke="#555" stroke-width="0.9" fill="none"/>
<line x1="462" y1="115.4" x2="547" y2="115.4" stroke="#c8c8b8" stroke-width="0.8" stroke-dasharray="12,2,2,2"/>
<line x1="460.4" y1="119.4" x2="460.4" y2="156" stroke="#777" stroke-width="0.6"/>
<line x1="460.4" y1="153" x2="520" y2="153" stroke="#7a7a7a" stroke-width="0.8"/>
<polygon points="460.4,153 465.4,151.75 465.4,154.25" fill="#151515"/>
<polygon points="520,153 515.0,151.75 515.0,154.25" fill="#151515"/>
<text transform="translate(490.2,147) skewX(-13)" font-size="8.5" font-style="italic" font-weight="normal" text-anchor="middle" dominant-baseline="central" fill="#262626" stroke="#262626" stroke-width="0.3" textLength="11.37" lengthAdjust="spacingAndGlyphs">250</text>
<rect x="541.4" y="202.2" width="65.0" height="73.60000000000002" stroke="#666" stroke-width="0.9" fill="none"/>
<rect x="548.8" y="209" width="50.60000000000002" height="59.80000000000001" stroke="#666" stroke-width="0.9" fill="none"/>
<line x1="562.6" y1="185" x2="562.6" y2="216" stroke="#7a7a7a" stroke-width="0.8"/>
<polygon points="562.6,202.2 561.35,197.2 563.85,197.2" fill="#151515"/>
<polygon points="562.6,209 561.35,214.0 563.85,214.0" fill="#151515"/>
<text transform="translate(556.5,191.5) rotate(-90) skewX(-13)" font-size="8.5" font-style="italic" font-weight="normal" text-anchor="middle" dominant-baseline="central" fill="#262626" stroke="#262626" stroke-width="0.3" textLength="7.58" lengthAdjust="spacingAndGlyphs">30</text>
<line x1="559.8" y1="262" x2="559.8" y2="290" stroke="#7a7a7a" stroke-width="0.8"/>
<polygon points="559.8,268.8 558.55,263.8 561.05,263.8" fill="#151515"/>
<polygon points="559.8,275.8 558.55,280.8 561.05,280.8" fill="#151515"/>
<text transform="translate(553.5,285) rotate(-90) skewX(-13)" font-size="8.5" font-style="italic" font-weight="normal" text-anchor="middle" dominant-baseline="central" fill="#262626" stroke="#262626" stroke-width="0.3" textLength="7.58" lengthAdjust="spacingAndGlyphs">30</text>
<line x1="525" y1="242.7" x2="555" y2="242.7" stroke="#7a7a7a" stroke-width="0.8"/>
<polygon points="541.4,242.7 536.4,241.45 536.4,243.95" fill="#151515"/>
<polygon points="548.8,242.7 553.8,241.45 553.8,243.95" fill="#151515"/>
<text transform="translate(532,236.5) skewX(-13)" font-size="8.5" font-style="italic" font-weight="normal" text-anchor="middle" dominant-baseline="central" fill="#262626" stroke="#262626" stroke-width="0.3" textLength="7.58" lengthAdjust="spacingAndGlyphs">30</text>
<line x1="592" y1="242.7" x2="623" y2="242.7" stroke="#7a7a7a" stroke-width="0.8"/>
<polygon points="599.4,242.7 594.4,241.45 594.4,243.95" fill="#151515"/>
<polygon points="606.4,242.7 611.4,241.45 611.4,243.95" fill="#151515"/>
<text transform="translate(616,236.5) skewX(-13)" font-size="8.5" font-style="italic" font-weight="normal" text-anchor="middle" dominant-baseline="central" fill="#262626" stroke="#262626" stroke-width="0.3" textLength="7.58" lengthAdjust="spacingAndGlyphs">30</text>
<line x1="548.8" y1="254.7" x2="599.4" y2="254.7" stroke="#7a7a7a" stroke-width="0.8"/>
<polygon points="548.8,254.7 553.8,253.45 553.8,255.95" fill="#151515"/>
<polygon points="599.4,254.7 594.4,253.45 594.4,255.95" fill="#151515"/>
<text transform="translate(574,248.5) skewX(-13)" font-size="8.5" font-style="italic" font-weight="normal" text-anchor="middle" dominant-baseline="central" fill="#262626" stroke="#262626" stroke-width="0.3" textLength="11.37" lengthAdjust="spacingAndGlyphs">210</text>
<line x1="541.4" y1="351.9" x2="606.2" y2="351.9" stroke="#666" stroke-width="0.9"/>
<line x1="541.4" y1="351.9" x2="541.4" y2="401.2" stroke="#666" stroke-width="0.9"/>
<line x1="606.2" y1="351.9" x2="606.2" y2="401.2" stroke="#666" stroke-width="0.9"/>
<rect x="548.8" y="358.7" width="50.60000000000002" height="36.10000000000002" stroke="#666" stroke-width="0.9" fill="none"/>
<line x1="586" y1="335" x2="586" y2="366" stroke="#7a7a7a" stroke-width="0.8"/>
<polygon points="586,351.9 584.75,346.9 587.25,346.9" fill="#151515"/>
<polygon points="586,358.7 584.75,363.7 587.25,363.7" fill="#151515"/>
<text transform="translate(580,341) rotate(-90) skewX(-13)" font-size="8.5" font-style="italic" font-weight="normal" text-anchor="middle" dominant-baseline="central" fill="#262626" stroke="#262626" stroke-width="0.3" textLength="7.58" lengthAdjust="spacingAndGlyphs">30</text>
<line x1="525" y1="366.3" x2="555" y2="366.3" stroke="#7a7a7a" stroke-width="0.8"/>
<polygon points="541.4,366.3 536.4,365.05 536.4,367.55" fill="#151515"/>
<polygon points="548.8,366.3 553.8,365.05 553.8,367.55" fill="#151515"/>
<text transform="translate(532,360.5) skewX(-13)" font-size="8.5" font-style="italic" font-weight="normal" text-anchor="middle" dominant-baseline="central" fill="#262626" stroke="#262626" stroke-width="0.3" textLength="7.58" lengthAdjust="spacingAndGlyphs">30</text>
<line x1="592" y1="366.3" x2="623" y2="366.3" stroke="#7a7a7a" stroke-width="0.8"/>
<polygon points="599.4,366.3 594.4,365.05 594.4,367.55" fill="#151515"/>
<polygon points="606.2,366.3 611.2,365.05 611.2,367.55" fill="#151515"/>
<text transform="translate(616,360.5) skewX(-13)" font-size="8.5" font-style="italic" font-weight="normal" text-anchor="middle" dominant-baseline="central" fill="#262626" stroke="#262626" stroke-width="0.3" textLength="7.58" lengthAdjust="spacingAndGlyphs">30</text>
<line x1="548.8" y1="378.9" x2="599.4" y2="378.9" stroke="#7a7a7a" stroke-width="0.8"/>
<polygon points="548.8,378.9 553.8,377.65 553.8,380.15" fill="#151515"/>
<polygon points="599.4,378.9 594.4,377.65 594.4,380.15" fill="#151515"/>
<text transform="translate(574,372.5) skewX(-13)" font-size="8.5" font-style="italic" font-weight="normal" text-anchor="middle" dominant-baseline="central" fill="#262626" stroke="#262626" stroke-width="0.3" textLength="11.37" lengthAdjust="spacingAndGlyphs">210</text>
<line x1="565.2" y1="388" x2="565.2" y2="418" stroke="#7a7a7a" stroke-width="0.8"/>
<polygon points="565.2,394.8 563.95,389.8 566.45,389.8" fill="#151515"/>
<polygon points="565.2,401.2 563.95,406.2 566.45,406.2" fill="#151515"/>
<text transform="translate(559,411) rotate(-90) skewX(-13)" font-size="8.5" font-style="italic" font-weight="normal" text-anchor="middle" dominant-baseline="central" fill="#262626" stroke="#262626" stroke-width="0.3" textLength="7.58" lengthAdjust="spacingAndGlyphs">30</text>
<line x1="460.6" y1="390" x2="520" y2="390" stroke="#555" stroke-width="0.9"/>
<line x1="460.6" y1="398" x2="520" y2="398" stroke="#555" stroke-width="0.9"/>
<line x1="460.6" y1="375" x2="460.6" y2="398" stroke="#666" stroke-width="0.8"/>
<line x1="462" y1="393.9" x2="520" y2="393.9" stroke="#b8b8b8" stroke-width="0.8" stroke-dasharray="12,2,2,2"/>
<line x1="460.6" y1="376.3" x2="520" y2="376.3" stroke="#7a7a7a" stroke-width="0.8"/>
<polygon points="460.6,376.3 465.6,375.05 465.6,377.55" fill="#151515"/>
<polygon points="520,376.3 515.0,375.05 515.0,377.55" fill="#151515"/>
<text transform="translate(490.3,370) skewX(-13)" font-size="8.5" font-style="italic" font-weight="normal" text-anchor="middle" dominant-baseline="central" fill="#262626" stroke="#262626" stroke-width="0.3" textLength="11.37" lengthAdjust="spacingAndGlyphs">250</text>
<path transform="translate(816.10,79.30)" d="M0.6,0 L0.6,9.8 L3.52,9.8 C6.72,9.8 6.72,4.61 3.20,4.61 L0.6,4.61 M0.6,0 L3.20,0 C6.08,0 6.08,4.61 3.20,4.61" stroke="#1a1a1a" stroke-width="1.35" fill="none" stroke-linejoin="miter" stroke-linecap="butt"/>
<path transform="translate(673.00,173.70)" d="M0,10.2 L3.40,0 L6.8,10.2 M1.50,6.94 L5.30,6.94" stroke="#1a1a1a" stroke-width="1.35" fill="none" stroke-linejoin="miter" stroke-linecap="butt"/>
<line x1="672" y1="188" x2="690.5" y2="188" stroke="#999" stroke-width="0.9"/>
<polygon points="690.5,188 682.00,189.35 682.00,186.65" fill="#111"/>
<line x1="718.4" y1="152" x2="718.4" y2="198.5" stroke="#888" stroke-width="0.8"/>
<line x1="794.2" y1="152" x2="794.2" y2="198.5" stroke="#888" stroke-width="0.8"/>
<line x1="718.4" y1="158" x2="794.2" y2="158" stroke="#7a7a7a" stroke-width="0.8"/>
<polygon points="718.4,158 723.4,156.75 723.4,159.25" fill="#151515"/>
<polygon points="794.2,158 789.2,156.75 789.2,159.25" fill="#151515"/>
<text transform="translate(756,152.7) skewX(-13)" font-size="8.5" font-style="italic" font-weight="normal" text-anchor="middle" dominant-baseline="central" fill="#262626" stroke="#262626" stroke-width="0.3" textLength="11.37" lengthAdjust="spacingAndGlyphs">320</text>
<line x1="718.4" y1="192.7" x2="811.9" y2="192.7" stroke="#555" stroke-width="0.9"/>
<line x1="709.9" y1="198.5" x2="811.9" y2="198.5" stroke="#555" stroke-width="0.9"/>
<line x1="718.4" y1="192.7" x2="718.4" y2="198.5" stroke="#555" stroke-width="0.9"/>
<line x1="811.9" y1="192.7" x2="811.9" y2="198.5" stroke="#777" stroke-width="0.7"/>
<line x1="749.3" y1="172.9" x2="749.3" y2="192.7" stroke="#666" stroke-width="0.8"/>
<line x1="762.3" y1="172.9" x2="762.3" y2="192.7" stroke="#666" stroke-width="0.8"/>
<rect x="753.8" y="181.5" width="4.0" height="4.5" stroke="#999" stroke-width="0.6" fill="none"/>
<line x1="749.3" y1="172.9" x2="782.9" y2="172.9" stroke="#7a7a7a" stroke-width="0.8"/>
<polygon points="749.3,172.9 754.3,171.65 754.3,174.15" fill="#151515"/>
<polygon points="762.3,172.9 757.3,171.65 757.3,174.15" fill="#151515"/>
<g transform="translate(774.4,166.9) skewX(-13)"><ellipse cx="-3.79" cy="0" rx="1.59" ry="2.91" stroke="#262626" stroke-width="0.85" fill="none"/><line x1="-5.50" y1="3.34" x2="-2.08" y2="-3.34" stroke="#262626" stroke-width="0.85"/><text x="-1.90" y="0" font-size="8.5" font-style="italic" font-weight="normal" text-anchor="start" dominant-baseline="central" fill="#262626" stroke="#262626" stroke-width="0.3" textLength="7.58" lengthAdjust="spacingAndGlyphs">53</text></g>
<polyline points="748.2,198.5 756.4,217.2 762.3,198.5" stroke="#56566c" stroke-width="1.2" fill="none"/>
<polygon points="763.7,198.8 775,203 770.1,222.9 758.8,219.3" stroke="#555" stroke-width="0.9" fill="none"/>
<line x1="775" y1="203" x2="770.1" y2="222.9" stroke="#333" stroke-width="1.3"/>
<text transform="translate(766.6,210.8) rotate(-72) skewX(-13)" font-size="7.0" font-style="italic" font-weight="normal" text-anchor="middle" dominant-baseline="central" fill="#262626" stroke="#262626" stroke-width="0.3" textLength="6.24" lengthAdjust="spacingAndGlyphs">16</text>
<line x1="756.4" y1="175" x2="756.4" y2="253" stroke="#d9dcaa" stroke-width="0.7" stroke-dasharray="6,2"/>
<line x1="709.9" y1="217.9" x2="755.2" y2="217.9" stroke="#777" stroke-width="0.8"/>
<line x1="711.3" y1="198.5" x2="711.3" y2="217.9" stroke="#7a7a7a" stroke-width="0.8"/>
<polygon points="711.3,198.5 710.05,203.5 712.55,203.5" fill="#151515"/>
<polygon points="711.3,217.9 710.05,212.9 712.55,212.9" fill="#151515"/>
<text transform="translate(704.2,208.2) rotate(-90) skewX(-13)" font-size="8.5" font-style="italic" font-weight="normal" text-anchor="middle" dominant-baseline="central" fill="#262626" stroke="#262626" stroke-width="0.3" textLength="7.58" lengthAdjust="spacingAndGlyphs">30</text>
<line x1="734.4" y1="186" x2="734.4" y2="210.8" stroke="#7a7a7a" stroke-width="0.8"/>
<polygon points="734.4,192.7 733.15,187.7 735.65,187.7" fill="#151515"/>
<polygon points="734.4,198.5 733.15,203.5 735.65,203.5" fill="#151515"/>
<text transform="translate(729.7,206.6) rotate(-90) skewX(-13)" font-size="8.5" font-style="italic" font-weight="normal" text-anchor="middle" dominant-baseline="central" fill="#262626" stroke="#262626" stroke-width="0.3" textLength="3.79" lengthAdjust="spacingAndGlyphs">4</text>
<line x1="809.8" y1="186" x2="809.8" y2="215.1" stroke="#7a7a7a" stroke-width="0.8"/>
<polygon points="809.8,192.7 808.55,187.7 811.05,187.7" fill="#151515"/>
<polygon points="809.8,198.5 808.55,203.5 811.05,203.5" fill="#151515"/>
<text transform="translate(802,208.7) rotate(-90) skewX(-13)" font-size="8.5" font-style="italic" font-weight="normal" text-anchor="middle" dominant-baseline="central" fill="#262626" stroke="#262626" stroke-width="0.3" textLength="7.58" lengthAdjust="spacingAndGlyphs">25</text>
<line x1="731.9" y1="233.8" x2="762.3" y2="233.8" stroke="#7a7a7a" stroke-width="0.8"/>
<polygon points="748.2,233.8 743.2,232.55 743.2,235.05" fill="#151515"/>
<polygon points="756.4,233.8 761.4,232.55 761.4,235.05" fill="#151515"/>
<text transform="translate(737.5,228.5) skewX(-13)" font-size="8.5" font-style="italic" font-weight="normal" text-anchor="middle" dominant-baseline="central" fill="#262626" stroke="#262626" stroke-width="0.3" textLength="7.58" lengthAdjust="spacingAndGlyphs">32</text>
<line x1="748.2" y1="198.5" x2="748.2" y2="236" stroke="#888" stroke-width="0.7"/>
<path transform="translate(878.20,99.60)" d="M0,9.8 L3.30,0 L6.6,9.8 M1.45,6.66 L5.15,6.66" stroke="#1a1a1a" stroke-width="1.35" fill="none" stroke-linejoin="miter" stroke-linecap="butt"/>
<line x1="880" y1="129" x2="880" y2="147" stroke="#999" stroke-width="0.9"/>
<polygon points="880,147 878.65,138.50 881.35,138.50" fill="#111"/>
<path transform="translate(883.00,129.10)" d="M6.0,0 L0.6,0 L0.6,9.8 L3.30,9.8 C6.30,9.8 6.30,4.41 3.30,4.41 L0.6,4.41" stroke="#1a1a1a" stroke-width="1.35" fill="none" stroke-linejoin="miter" stroke-linecap="butt"/>
<line x1="848.3" y1="165" x2="848.3" y2="198.9" stroke="#666" stroke-width="0.8"/>
<line x1="905" y1="165" x2="905" y2="198.9" stroke="#666" stroke-width="0.8"/>
<line x1="848.3" y1="198.9" x2="905" y2="198.9" stroke="#444" stroke-width="1.2"/>
<line x1="848.3" y1="167.6" x2="905" y2="167.6" stroke="#7a7a7a" stroke-width="0.8"/>
<polygon points="848.3,167.6 853.3,166.35 853.3,168.85" fill="#151515"/>
<polygon points="905,167.6 900.0,166.35 900.0,168.85" fill="#151515"/>
<text transform="translate(876.4,162.1) skewX(-13)" font-size="8.5" font-style="italic" font-weight="normal" text-anchor="middle" dominant-baseline="central" fill="#262626" stroke="#262626" stroke-width="0.3" textLength="11.37" lengthAdjust="spacingAndGlyphs">240</text>
<line x1="869.6" y1="179.1" x2="869.6" y2="198.9" stroke="#666" stroke-width="0.8"/>
<line x1="883.4" y1="179.1" x2="883.4" y2="198.9" stroke="#666" stroke-width="0.8"/>
<line x1="869.6" y1="179.1" x2="883.4" y2="179.1" stroke="#7a7a7a" stroke-width="0.8"/>
<polygon points="869.6,179.1 874.6,177.85 874.6,180.35" fill="#151515"/>
<polygon points="883.4,179.1 878.4,177.85 878.4,180.35" fill="#151515"/>
<text transform="translate(876.4,173.6) skewX(-13)" font-size="8.5" font-style="italic" font-weight="normal" text-anchor="middle" dominant-baseline="central" fill="#262626" stroke="#262626" stroke-width="0.3" textLength="7.58" lengthAdjust="spacingAndGlyphs">60</text>
<path d="M872,186 Q876.5,181 881,186" stroke="#999" stroke-width="0.7" fill="none"/>
<line x1="869.6" y1="193.4" x2="883.4" y2="193.4" stroke="#56566c" stroke-width="1.3"/>
<line x1="862.7" y1="198.9" x2="862.7" y2="236" stroke="#666" stroke-width="0.8"/>
<line x1="891.7" y1="198.9" x2="891.7" y2="236" stroke="#666" stroke-width="0.8"/>
<line x1="862.7" y1="218.2" x2="891.7" y2="218.2" stroke="#666" stroke-width="0.8"/>
<line x1="862.7" y1="233.5" x2="891.7" y2="233.5" stroke="#7a7a7a" stroke-width="0.8"/>
<polygon points="862.7,233.5 867.7,232.25 867.7,234.75" fill="#151515"/>
<polygon points="891.7,233.5 886.7,232.25 886.7,234.75" fill="#151515"/>
<text transform="translate(876.4,227.2) skewX(-13)" font-size="8.5" font-style="italic" font-weight="normal" text-anchor="middle" dominant-baseline="central" fill="#262626" stroke="#262626" stroke-width="0.3" textLength="11.37" lengthAdjust="spacingAndGlyphs">120</text>
<line x1="876.4" y1="193.4" x2="876.4" y2="218.2" stroke="#d9dcaa" stroke-width="0.7"/>
<path transform="translate(870.20,258.55)" d="M6.4,0 L0.6,0 L0.6,10.5 L3.52,10.5 C6.72,10.5 6.72,4.73 3.52,4.73 L0.6,4.73" stroke="#1a1a1a" stroke-width="1.35" fill="none" stroke-linejoin="miter" stroke-linecap="butt"/>
<rect x="848.5" y="289.6" width="56.5" height="57.599999999999966" stroke="#666" stroke-width="0.9" fill="none"/>
<rect x="869.4" y="280.4" width="14.600000000000023" height="76.0" stroke="#555" stroke-width="0.9" fill="#fff"/>
<circle cx="876.7" cy="318.1" r="7.2" stroke="#333" stroke-width="1.1" fill="none"/>
<line x1="850" y1="318.1" x2="904" y2="318.1" stroke="#d9dcaa" stroke-width="0.7" stroke-dasharray="6,2"/>
<line x1="876.7" y1="282" x2="876.7" y2="355" stroke="#d9dcaa" stroke-width="0.7" stroke-dasharray="6,2"/>
<line x1="833" y1="289.6" x2="848.5" y2="289.6" stroke="#777" stroke-width="0.6"/>
<line x1="833" y1="347.2" x2="848.5" y2="347.2" stroke="#777" stroke-width="0.6"/>
<line x1="835.7" y1="289.6" x2="835.7" y2="347.2" stroke="#7a7a7a" stroke-width="0.8"/>
<polygon points="835.7,289.6 834.45,294.6 836.95,294.6" fill="#151515"/>
<polygon points="835.7,347.2 834.45,342.2 836.95,342.2" fill="#151515"/>
<text transform="translate(829.5,318.4) rotate(-90) skewX(-13)" font-size="8.5" font-style="italic" font-weight="normal" text-anchor="middle" dominant-baseline="central" fill="#262626" stroke="#262626" stroke-width="0.3" textLength="11.37" lengthAdjust="spacingAndGlyphs">240</text>
<line x1="848.5" y1="347.2" x2="848.5" y2="376" stroke="#777" stroke-width="0.6"/>
<line x1="905" y1="347.2" x2="905" y2="376" stroke="#777" stroke-width="0.6"/>
<line x1="848.5" y1="372.5" x2="905" y2="372.5" stroke="#7a7a7a" stroke-width="0.8"/>
<polygon points="848.5,372.5 853.5,371.25 853.5,373.75" fill="#151515"/>
<polygon points="905,372.5 900.0,371.25 900.0,373.75" fill="#151515"/>
<text transform="translate(876.7,366) skewX(-13)" font-size="8.5" font-style="italic" font-weight="normal" text-anchor="middle" dominant-baseline="central" fill="#262626" stroke="#262626" stroke-width="0.3" textLength="11.37" lengthAdjust="spacingAndGlyphs">240</text>
</g>
</svg>
</body></html>
